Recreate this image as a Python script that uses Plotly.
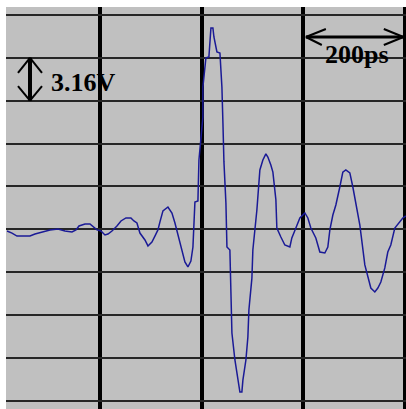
import plotly.graph_objects as go

# Time (ps) and voltage (V) samples
time_ps = [17.0, 26.8, 36.6, 62.2, 72.0, 85.8, 101.5, 117.3, 131.0, 144.8,
           152.7, 158.6, 170.4, 180.2, 188.1, 194.0, 201.8, 209.7, 215.6, 223.5,
           233.3, 241.2, 251.0, 260.8, 266.7, 272.6, 278.5, 288.4, 294.3, 302.1,
           308.0, 313.9, 317.9, 323.8, 333.6, 341.5, 347.4, 353.3, 359.2, 367.0,
           372.9, 378.8, 382.8, 384.7, 386.7, 392.6, 394.6, 402.4, 402.4, 408.3,
           414.2, 418.2, 422.1, 424.1, 430.0, 435.9, 439.8, 441.8, 443.8, 447.7,
           449.7, 455.5, 457.5, 459.5, 465.4, 471.3, 475.2, 479.1, 481.1, 487.0,
           490.9, 492.9, 498.8, 500.7, 504.7, 508.6, 514.5, 520.4, 526.3, 530.2,
           536.1, 540.1, 546.0, 547.9, 555.8, 563.6, 573.5, 577.4, 585.3, 593.2,
           603.0, 608.9, 614.8, 624.6, 632.5, 642.3, 648.2, 652.2, 658.1, 664.0,
           671.8, 677.7, 683.6, 691.5, 697.4, 703.3, 711.2, 721.0, 726.9, 732.8,
           740.7, 746.6, 752.5, 760.3, 766.2, 772.1, 780.0, 789.8, 795.7, 801.6]
volts = [-0.12, -0.27, -0.49, -0.49, -0.34, -0.19, -0.04, 0.03, -0.12, -0.19,
         -0.04, 0.25, 0.40, 0.40, 0.18, -0.04, -0.12, -0.41, -0.34, -0.12,
         0.25, 0.62, 0.84, 0.84, 0.62, 0.47, -0.27, -0.78, -1.22, -0.93,
         -0.49, -0.04, 0.55, 1.36, 1.65, 1.21, 0.47, -0.41, -1.37, -2.40,
         -2.77, -2.33, -1.30, -0.04, 2.02, 2.09, 5.11, 8.28, 10.49, 12.63,
         12.70, 14.84, 14.84, 14.17, 13.07, 12.99, 10.49, 7.84, 4.97, 1.95,
         -1.30, -1.52, -4.32, -7.63, -9.62, -11.10, -11.98, -11.98, -11.10, -9.62,
         -7.93, -5.94, -3.59, -1.52, -0.04, 1.43, 4.38, 5.11, 5.56, 5.33,
         4.74, 4.22, 2.17, 0.10, -0.56, -1.15, -1.30, -0.63, 0.10, 0.84,
         1.21, 0.84, 0.10, -0.63, -1.67, -1.74, -1.30, -0.04, 1.06, 1.80,
         3.12, 4.22, 4.38, 4.16, 3.12, 1.95, 0.32, -2.62, -3.59, -4.32,
         -4.61, -4.32, -3.88, -2.84, -1.67, -1.15, 0.10, 0.55, 0.84, 0.99]

volts_per_div = 3.16
ps_per_div = 200
volt_label = "3.16V"
time_label = "200ps"

fig = go.Figure()
fig.add_trace(go.Scatter(x=time_ps, y=volts, mode="lines",
                         line=dict(color="#1a1a96", width=1.5),
                         hoverinfo="skip", showlegend=False))

# Double arrow for volts/div (vertical)
vx = 62.2
v_top, v_bot = 4 * volts_per_div, 3 * volts_per_div
shapes = [
    dict(type="line", x0=vx, x1=vx, y0=v_bot, y1=v_top, line=dict(color="black", width=4)),
    dict(type="line", x0=vx, x1=38.6, y0=v_top, y1=11.52, line=dict(color="black", width=2)),
    dict(type="line", x0=vx, x1=85.8, y0=v_top, y1=11.52, line=dict(color="black", width=2)),
    dict(type="line", x0=vx, x1=38.6, y0=v_bot, y1=10.56, line=dict(color="black", width=2)),
    dict(type="line", x0=vx, x1=85.8, y0=v_bot, y1=10.56, line=dict(color="black", width=2)),
]
# Double arrow for ps/div (horizontal)
hy = 14.17
t0, t1 = 3 * ps_per_div + 5, 4 * ps_per_div - 3
shapes += [
    dict(type="line", x0=t0, x1=t1, y0=hy, y1=hy, line=dict(color="black", width=3)),
    dict(type="line", x0=t0, x1=644.3, y0=hy, y1=14.76, line=dict(color="black", width=2)),
    dict(type="line", x0=t0, x1=636.4, y0=hy, y1=13.58, line=dict(color="black", width=2)),
    dict(type="line", x0=t1, x1=758.4, y0=hy, y1=14.76, line=dict(color="black", width=2)),
    dict(type="line", x0=t1, x1=758.4, y0=hy, y1=13.58, line=dict(color="black", width=2)),
]

font = dict(family="Liberation Serif", size=26, color="black")
annotations = [
    dict(x=168.4, y=10.82, text="<b>%s</b>" % volt_label, showarrow=False,
         xanchor="center", yanchor="middle", font=font),
    dict(x=705.3, y=12.85, text="<b>%s</b>" % time_label, showarrow=False,
         xanchor="center", yanchor="middle", font=font),
]

fig.update_layout(
    width=406, height=409,
    margin=dict(l=6, r=0, t=7, b=0),
    paper_bgcolor="white", plot_bgcolor="#c0c0c0",
    shapes=shapes, annotations=annotations,
    xaxis=dict(range=[15, 802], tick0=0, dtick=ps_per_div, showticklabels=False,
               showgrid=True, gridcolor="black", gridwidth=3.5, zeroline=False,
               showline=False, ticks=""),
    yaxis=dict(range=[-13.23, 16.38], tick0=0, dtick=volts_per_div, showticklabels=False,
               showgrid=True, gridcolor="#262626", gridwidth=2, zeroline=False,
               showline=False, ticks=""),
)

fig.write_html("out.html", config=dict(displayModeBar=False),
               post_script="document.body.style.margin='0';document.body.style.overflow='hidden';")
